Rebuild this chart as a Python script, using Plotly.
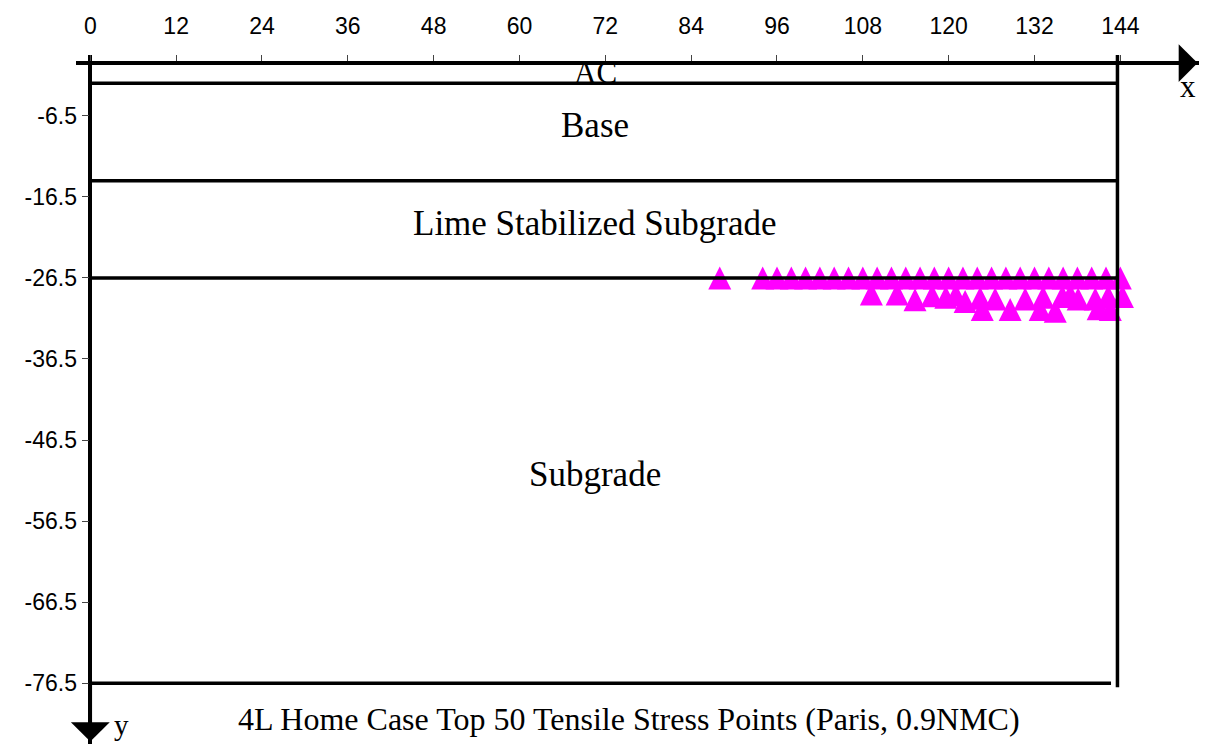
import plotly.graph_objects as go

# Top 50 tensile stress points: horizontal offset (in) and depth (in)
stress_x = [88, 94, 96, 98, 100, 102, 104, 106, 108, 110, 112, 114, 116, 118,
            120, 122, 124, 126, 128, 130, 132, 134, 136, 138, 140, 142, 144,
            109.2, 112.8, 115.3, 117.7, 119.6, 121.0, 122.3, 124.4, 124.7, 126.5,
            128.6, 130.7, 132.8, 133.2, 134.9, 135.9, 137.0, 138.1, 140.5, 140.9,
            142.3, 142.6, 144.3]
stress_y = [-26.5, -26.5, -26.5, -26.5, -26.5, -26.5, -26.5, -26.5, -26.5, -26.5,
            -26.5, -26.5, -26.5, -26.5, -26.5, -26.5, -26.5, -26.5, -26.5, -26.5,
            -26.5, -26.5, -26.5, -26.5, -26.5, -26.5, -26.5,
            -28.5, -28.5, -29.2, -28.7, -28.9, -28.6, -29.4, -29.0, -30.4, -29.1,
            -30.4, -29.1, -30.4, -28.9, -30.6, -28.8, -28.6, -29.1, -29.1, -30.3,
            -28.8, -30.4, -28.8]

# Pavement layers and the depth of each layer bottom (in)
layer_names = ["AC", "Base", "Lime Stabilized Subgrade", "Subgrade"]
layer_bottoms = [-2.5, -14.5, -26.5, -76.5]
layer_label_y = [-1.2, -7.7, -19.8, -50.8]
layer_label_size = [31, 35, 35, 35]
layer_right = [143.6, 143.6, 143.6, 142.7]
section_edge_x = 143.6
section_edge_top = 1.0
section_edge_bottom = -77.0
label_x = 70.6

x_ticks = [0, 12, 24, 36, 48, 60, 72, 84, 96, 108, 120, 132, 144]
y_ticks = [-6.5, -16.5, -26.5, -36.5, -46.5, -56.5, -66.5, -76.5]
y_tick_text = ["-6.5", "-16.5", "-26.5", "-36.5", "-46.5", "-56.5", "-66.5", "-76.5"]

title_text = "4L Home Case Top 50 Tensile Stress Points (Paris, 0.9NMC)"

X_RANGE = [-2, 155]
Y_RANGE = [-84, 1.0]

SERIF = "Liberation Serif, Times New Roman, serif"
SANS = "Liberation Sans, Arial, sans-serif"
LINE_W = 3.5

fig = go.Figure()

fig.add_trace(go.Scatter(
    x=stress_x, y=stress_y, mode="markers",
    marker=dict(symbol="arrow-down", angle=180, standoff=11.5, size=23,
                color="#FF00FF", line=dict(width=0)),
    cliponaxis=False, showlegend=False, hoverinfo="x+y",
))

# layer boundaries drawn over the points
for bottom, right in zip(layer_bottoms, layer_right):
    fig.add_trace(go.Scatter(
        x=[0, right], y=[bottom, bottom], mode="lines",
        line=dict(color="black", width=LINE_W), showlegend=False, hoverinfo="skip",
    ))
fig.add_trace(go.Scatter(
    x=[section_edge_x, section_edge_x], y=[section_edge_top, section_edge_bottom],
    mode="lines", line=dict(color="black", width=LINE_W), showlegend=False, hoverinfo="skip",
))

annotations = []
for name, ly, fs in zip(layer_names, layer_label_y, layer_label_size):
    annotations.append(dict(x=label_x, y=ly, xref="x", yref="y", text=name,
                            showarrow=False, font=dict(family=SERIF, size=fs, color="black")))
annotations.append(dict(x=75.3, y=-80.9, xref="x", yref="y", text=title_text,
                        showarrow=False, font=dict(family=SERIF, size=32, color="black")))
annotations.append(dict(x=153.5, y=-2.9, xref="x", yref="y", text="x",
                        showarrow=False, font=dict(family=SERIF, size=31, color="black")))
annotations.append(dict(x=4.3, y=-81.7, xref="x", yref="y", text="y",
                        showarrow=False, font=dict(family=SERIF, size=29, color="black")))
# axis arrowheads
annotations.append(dict(x=X_RANGE[1] - 0.2, y=0, ax=148, ay=0, xref="x", yref="y",
                        axref="x", ayref="y", text="", showarrow=True,
                        arrowhead=1, arrowsize=1.8, arrowwidth=3.5, arrowcolor="black"))
annotations.append(dict(x=0, y=Y_RANGE[0] + 0.3, ax=0, ay=-76, xref="x", yref="y",
                        axref="x", ayref="y", text="", showarrow=True,
                        arrowhead=1, arrowsize=1.85, arrowwidth=3.5, arrowcolor="black"))

x_pos = (0 - Y_RANGE[0]) / (Y_RANGE[1] - Y_RANGE[0])
y_pos = (0 - X_RANGE[0]) / (X_RANGE[1] - X_RANGE[0])

fig.update_layout(
    width=1209, height=746,
    margin=dict(l=76, r=10.4, t=55.3, b=2.2, autoexpand=False),
    paper_bgcolor="white", plot_bgcolor="white",
    xaxis=dict(range=X_RANGE, anchor="free", position=x_pos, side="top",
               tickvals=x_ticks, ticks="outside", ticklen=6, tickwidth=1,
               tickcolor="#444", showline=True, linecolor="black", linewidth=LINE_W,
               showgrid=False, zeroline=False, automargin=False,
               tickfont=dict(family=SANS, size=23, color="black"),
               ticklabelstandoff=12),
    yaxis=dict(range=Y_RANGE, anchor="free", position=y_pos,
               tickvals=y_ticks, ticktext=y_tick_text, ticks="outside",
               ticklen=7, tickwidth=1, tickcolor="#444",
               showline=True, linecolor="black", linewidth=LINE_W,
               showgrid=False, zeroline=False, automargin=False,
               tickfont=dict(family=SANS, size=23, color="black")),
    annotations=annotations,
)

fig.write_html("out.html")
